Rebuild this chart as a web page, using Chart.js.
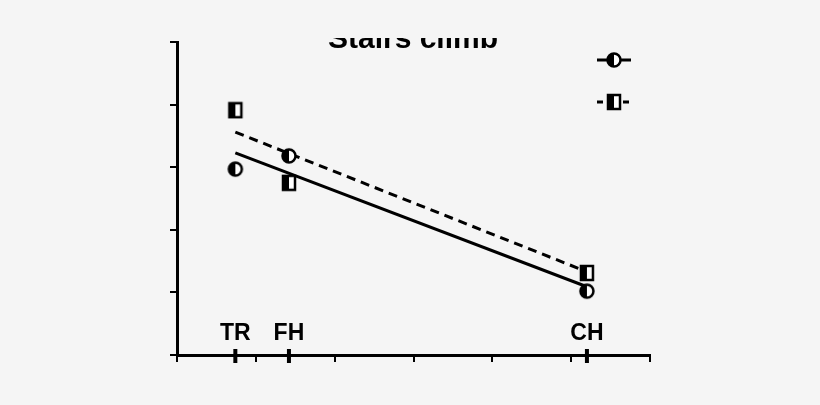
<!DOCTYPE html>
<html>
<head>
<meta charset="utf-8">
<script src="https://cdn.jsdelivr.net/npm/chart.js@4"></script>
<style>body{margin:0;background:#f5f5f5}</style>
</head>
<body>
<canvas id="c" width="820" height="405"></canvas>
<script>
var categories = ["TR", "FH", "CH"];
var catX = [0.74, 1.42, 5.2];
var circleVals = [2.97, 3.18, 1.02];
var squareVals = [3.91, 2.75, 1.31];
var solidFit = [3.23, 1.09];
var dashedFit = [3.56, 1.33];
var xTicks = [0, 1, 2, 3, 4, 5, 6];

function marker(kind) {
  var c = document.createElement('canvas');
  c.width = 18; c.height = 18;
  var g = c.getContext('2d');
  g.lineWidth = 2.5; g.strokeStyle = '#000';
  if (kind === 'circle') {
    g.fillStyle = '#fff'; g.beginPath(); g.arc(9, 9, 6.5, 0, Math.PI * 2); g.fill();
    g.fillStyle = '#000'; g.beginPath(); g.arc(9, 9, 6.5, Math.PI / 2, Math.PI * 1.5); g.fill();
    g.beginPath(); g.arc(9, 9, 6.5, 0, Math.PI * 2); g.stroke();
  } else {
    g.fillStyle = '#fff'; g.fillRect(3, 2, 12, 14);
    g.fillStyle = '#000'; g.fillRect(3, 2, 6, 14);
    g.strokeRect(3, 2, 12, 14);
  }
  return c;
}
var circ = marker('circle'), sq = marker('square');

var extras = {
  id: 'extras',
  afterDraw: function (ch) {
    var g = ch.ctx, x = ch.scales.x, y = ch.scales.y;
    g.save();
    g.fillStyle = '#000'; g.strokeStyle = '#000';
    g.font = 'bold 23px "Liberation Sans", Arial';
    g.textAlign = 'center'; g.textBaseline = 'alphabetic';
    categories.forEach(function (c, i) {
      var px = x.getPixelForValue(catX[i]);
      g.fillText(c, px, 340);
      g.fillRect(px - 2, y.bottom - 6, 4, 14);
    });
    g.font = 'bold 30px "Liberation Sans", Arial';
    g.fillText('Stairs climb', 413, 48);
    g.fillStyle = '#f5f5f5'; g.fillRect(0, 0, 820, 38); g.fillRect(640, 38, 180, 100);
    // legend
    g.lineWidth = 3;
    g.beginPath(); g.moveTo(597, 60); g.lineTo(631, 60); g.stroke();
    g.drawImage(circ, 605, 51);
    g.setLineDash([6, 7]);
    g.beginPath(); g.moveTo(597, 102); g.lineTo(634, 102); g.stroke();
    g.setLineDash([]);
    g.drawImage(sq, 605, 93);
    g.restore();
  }
};

new Chart(document.getElementById('c'), {
  type: 'scatter',
  data: {
    datasets: [
      { data: catX.map(function (v, i) { return { x: v, y: circleVals[i] }; }), pointStyle: circ },
      { data: catX.map(function (v, i) { return { x: v, y: squareVals[i] }; }), pointStyle: sq },
      { type: 'line', data: [{ x: catX[0], y: solidFit[0] }, { x: catX[2], y: solidFit[1] }], borderColor: '#000', borderWidth: 3, pointRadius: 0 },
      { type: 'line', data: [{ x: catX[0], y: dashedFit[0] }, { x: catX[2], y: dashedFit[1] }], borderColor: '#000', borderWidth: 3, borderDash: [9, 6], pointRadius: 0 }
    ]
  },
  options: {
    responsive: false, animation: false,
    layout: { padding: { left: 167, right: 170, top: 42, bottom: 40 } },
    plugins: { legend: { display: false }, tooltip: { enabled: false } },
    scales: {
      x: {
        type: 'linear', min: 0, max: 6,
        afterBuildTicks: function (s) { s.ticks = xTicks.map(function (v) { return { value: v }; }); },
        afterFit: function (s) { s.height = 10; },
        ticks: { display: false },
        grid: { drawOnChartArea: false, color: '#000', lineWidth: 2, tickLength: 7 },
        border: { color: '#000', width: 3 }
      },
      y: {
        min: 0, max: 5,
        afterFit: function (s) { s.width = 10; },
        ticks: { display: false, stepSize: 1 },
        grid: { drawOnChartArea: false, color: '#000', lineWidth: 2, tickLength: 7 },
        border: { color: '#000', width: 3 }
      }
    }
  },
  plugins: [extras]
});
</script>
</body>
</html>
